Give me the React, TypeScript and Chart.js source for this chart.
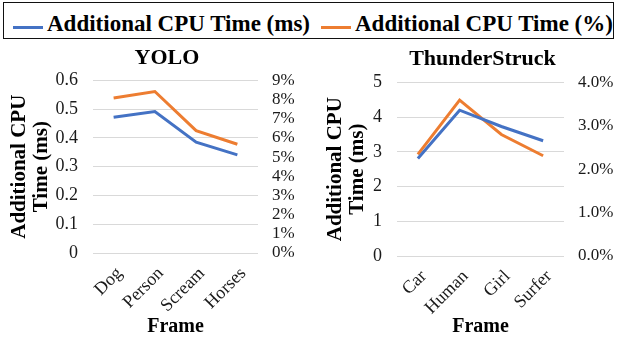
import React, { useEffect, useRef } from 'react';
import { Chart, registerables } from 'chart.js';

Chart.register(...registerables);

const SERIF = '"Liberation Serif", "Times New Roman", serif';

// Series names and colours (shared legend)
const seriesNames = ['Additional CPU Time (ms)', 'Additional CPU Time (%)'];
const seriesColors = ['#4472C4', '#ED7D31'];

// YOLO panel
const yoloFrames = ['Dog', 'Person', 'Scream', 'Horses'];
const yoloMs = [0.472, 0.492, 0.385, 0.341];
const yoloPct = [8.08, 8.42, 6.38, 5.67];
const yoloMsMax = 0.6;
const yoloMsStep = 0.1;
const yoloPctMax = 9;
const yoloPctStep = 1;

// ThunderStruck panel
const thunderFrames = ['Car', 'Human', 'Girl', 'Surfer'];
const thunderMs = [2.81, 4.2, 3.73, 3.32];
const thunderPct = [2.34, 3.59, 2.8, 2.31];
const thunderMsMax = 5;
const thunderMsStep = 1;
const thunderPctMax = 4;
const thunderPctStep = 1;

const axisTitle = ['Additional CPU', 'Time (ms)'];
const xTitle = 'Frame';

type PanelSpec = {
  title: string;
  frames: string[];
  ms: number[];
  pct: number[];
  msMax: number;
  msStep: number;
  msFmt: (v: number) => string;
  pctMax: number;
  pctStep: number;
  pctFmt: (v: number) => string;
  leftWidth: number;
  rightWidth: number;
  bottomHeight: number;
  titlePadTop: number;
  titlePadBottom: number;
  yTitlePad: number;
};

function buildConfig(p: PanelSpec): any {
  const tickFont = { family: SERIF, size: 18 };
  const pctFont = { family: SERIF, size: 17 };
  return {
    type: 'line',
    data: {
      labels: p.frames,
      datasets: [
        {
          label: seriesNames[0],
          data: p.ms,
          borderColor: seriesColors[0],
          backgroundColor: seriesColors[0],
          borderWidth: 3,
          pointRadius: 0,
          tension: 0,
          yAxisID: 'y',
        },
        {
          label: seriesNames[1],
          data: p.pct,
          borderColor: seriesColors[1],
          backgroundColor: seriesColors[1],
          borderWidth: 3,
          pointRadius: 0,
          tension: 0,
          yAxisID: 'y1',
        },
      ],
    },
    options: {
      responsive: false,
      animation: false,
      events: [],
      layout: { padding: 0 },
      plugins: {
        legend: { display: false },
        tooltip: { enabled: false },
        title: {
          display: true,
          text: p.title,
          color: '#000',
          font: { family: SERIF, size: 22, weight: 'bold', lineHeight: 1.2 },
          padding: { top: p.titlePadTop, bottom: p.titlePadBottom },
        },
      },
      scales: {
        x: {
          offset: true,
          grid: { display: false, drawTicks: false },
          border: { display: false },
          ticks: {
            color: '#1a1a1a',
            font: tickFont,
            minRotation: 45,
            maxRotation: 45,
            autoSkip: false,
            padding: 10,
            labelOffset: 6,
          },
          title: {
            display: true,
            text: xTitle,
            color: '#000',
            font: { family: SERIF, size: 20, weight: 'bold', lineHeight: 1.2 },
            padding: { top: 0, bottom: 2 },
          },
          afterFit: (s: any) => {
            s.height = p.bottomHeight;
          },
        },
        y: {
          position: 'left',
          min: 0,
          max: p.msMax,
          grid: { color: '#d9d9d9', lineWidth: 1, drawTicks: false },
          border: { display: false },
          ticks: {
            stepSize: p.msStep,
            autoSkip: false,
            color: '#1a1a1a',
            font: tickFont,
            padding: 15,
            callback: (v: any) => p.msFmt(Number(v)),
          },
          title: {
            display: true,
            text: axisTitle,
            color: '#000',
            font: { family: SERIF, size: 21, weight: 'bold', lineHeight: 1.05 },
            padding: { top: p.yTitlePad, bottom: 0 },
          },
          afterFit: (s: any) => {
            s.width = p.leftWidth;
          },
        },
        y1: {
          position: 'right',
          min: 0,
          max: p.pctMax,
          grid: { display: false, drawTicks: false },
          border: { display: false },
          ticks: {
            stepSize: p.pctStep,
            autoSkip: false,
            color: '#1a1a1a',
            font: pctFont,
            padding: 14,
            callback: (v: any) => p.pctFmt(Number(v)),
          },
          afterFit: (s: any) => {
            s.width = p.rightWidth;
          },
        },
      },
    },
  };
}

function Panel({ spec, left, top, width, height }: { spec: PanelSpec; left: number; top: number; width: number; height: number }) {
  const ref = useRef<HTMLCanvasElement | null>(null);
  useEffect(() => {
    if (!ref.current) return;
    const chart = new Chart(ref.current, buildConfig(spec));
    return () => chart.destroy();
  }, [spec]);
  return (
    <canvas
      ref={ref}
      width={width}
      height={height}
      style={{ position: 'absolute', left, top, width, height }}
    />
  );
}

const yoloSpec: PanelSpec = {
  title: 'YOLO',
  frames: yoloFrames,
  ms: yoloMs,
  pct: yoloPct,
  msMax: yoloMsMax,
  msStep: yoloMsStep,
  msFmt: (v) => (v === 0 ? '0' : v.toFixed(1)),
  pctMax: yoloPctMax,
  pctStep: yoloPctStep,
  pctFmt: (v) => `${Math.round(v)}%`,
  leftWidth: 93,
  rightWidth: 76,
  bottomHeight: 88,
  titlePadTop: 3,
  titlePadBottom: 9,
  yTitlePad: 9,
};

const thunderSpec: PanelSpec = {
  title: 'ThunderStruck',
  frames: thunderFrames,
  ms: thunderMs,
  pct: thunderPct,
  msMax: thunderMsMax,
  msStep: thunderMsStep,
  msFmt: (v) => String(Math.round(v)),
  pctMax: thunderPctMax,
  pctStep: thunderPctStep,
  pctFmt: (v) => `${v.toFixed(1)}%`,
  leftWidth: 72,
  rightWidth: 76,
  bottomHeight: 85,
  titlePadTop: 4,
  titlePadBottom: 10,
  yTitlePad: 0,
};

function LegendItem({ color, text, lineLeft, textLeft }: { color: string; text: string; lineLeft: number; textLeft: number }) {
  return (
    <>
      <div
        style={{
          position: 'absolute',
          left: lineLeft,
          top: 26,
          width: 30,
          height: 3,
          background: color,
        }}
      />
      <div
        style={{
          position: 'absolute',
          left: textLeft,
          top: 11.5,
          fontFamily: SERIF,
          fontWeight: 'bold',
          fontSize: 23,
          lineHeight: '23px',
          color: '#000',
          whiteSpace: 'nowrap',
        }}
      >
        {text}
      </div>
    </>
  );
}

export default function App() {
  return (
    <div
      style={{
        position: 'fixed',
        left: 0,
        top: 0,
        width: 617,
        height: 341,
        overflow: 'hidden',
        background: '#fff',
      }}
    >
      <div
        style={{
          position: 'absolute',
          left: 3,
          top: 2,
          width: 609,
          height: 35,
          border: '1.5px solid #111',
        }}
      />
      <LegendItem color={seriesColors[0]} text={seriesNames[0]} lineLeft={13} textLeft={47} />
      <LegendItem color={seriesColors[1]} text={seriesNames[1]} lineLeft={321} textLeft={355} />
      <Panel spec={yoloSpec} left={0} top={42} width={334} height={299} />
      <Panel spec={thunderSpec} left={325} top={42} width={315} height={299} />
    </div>
  );
}
